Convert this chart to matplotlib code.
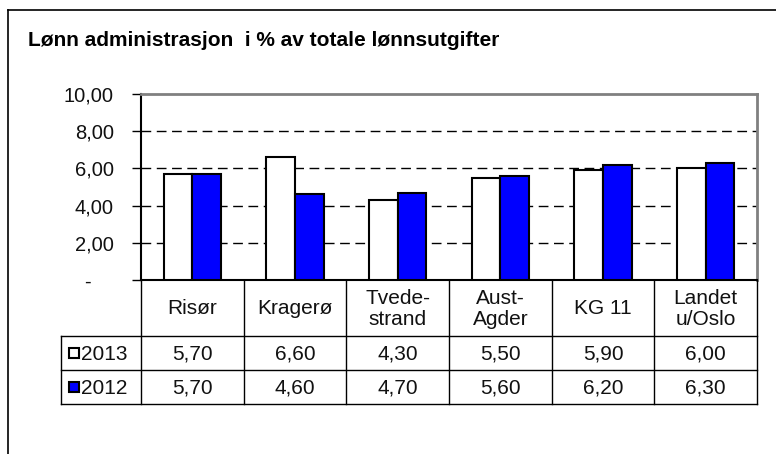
import matplotlib
matplotlib.use("Agg")
import matplotlib.pyplot as plt
from matplotlib.lines import Line2D
from matplotlib.patches import Rectangle
import numpy as np

plt.rcParams['font.family'] = ['Liberation Sans', 'DejaVu Sans']

title = "Lønn administrasjon  i % av totale lønnsutgifter"
categories = ["Risør", "Kragerø", "Tvede-\nstrand", "Aust-\nAgder", "KG 11", "Landet\nu/Oslo"]
series_names = ["2013", "2012"]
values_2013 = [5.70, 6.60, 4.30, 5.50, 5.90, 6.00]
values_2012 = [5.70, 4.60, 4.70, 5.60, 6.20, 6.30]
yticks = [0, 2, 4, 6, 8, 10]
ytick_labels = ["-    ", "2,00", "4,00", "6,00", "8,00", "10,00"]

W, H = 776, 454
fig = plt.figure(figsize=(W / 100, H / 100), dpi=100)

def fx(px):
    return px / W

def fy(py):
    return 1 - py / H

# outer border (only left and top visible)
fig.add_artist(Line2D([fx(8), fx(8)], [fy(10), fy(460)], color='black', lw=1.2))
fig.add_artist(Line2D([fx(8), fx(780)], [fy(10), fy(10)], color='black', lw=1.2))

fig.text(fx(28), fy(46), title, fontsize=15, fontweight='bold', va='baseline', ha='left')

L, R, T, B = 141, 757, 94, 280
ax = fig.add_axes([fx(L), fy(B), fx(R - L), (B - T) / H])
x = np.arange(len(categories))
bw = 0.28
ax.bar(x - bw / 2, values_2013, bw, color='white', edgecolor='black', lw=1.5, zorder=3)
ax.bar(x + bw / 2, values_2012, bw, color='#0000FF', edgecolor='black', lw=1.5, zorder=3)
ax.set_xlim(-0.5, len(categories) - 0.5)
ax.set_ylim(0, 10)
ax.set_yticks(yticks)
ax.set_yticklabels(ytick_labels, fontsize=14.5, color='#111111')
for t in yticks[1:-1]:
    ax.axhline(t, color='black', lw=1, dashes=(7, 4), zorder=1)
ax.set_xticks([])
for s in ['top', 'right']:
    ax.spines[s].set_color('#808080')
    ax.spines[s].set_linewidth(2)
ax.spines['left'].set_linewidth(1.5)
ax.spines['bottom'].set_linewidth(1.5)
ax.tick_params(axis='y', length=6.5, width=1, pad=13)

# table
col_edges = [L + i * (R - L) / len(categories) for i in range(len(categories) + 1)]
row_y = [B, 336, 370, 404]
lw = 1
for i, cx in enumerate(col_edges):
    fig.add_artist(Line2D([fx(cx), fx(cx)], [fy(B), fy(404)], color='black', lw=lw))
fig.add_artist(Line2D([fx(61), fx(61)], [fy(336), fy(404)], color='black', lw=lw))
for ry in row_y[1:]:
    fig.add_artist(Line2D([fx(61), fx(R)], [fy(ry), fy(ry)], color='black', lw=lw))

fs = 15
tc = '#111111'
for i, c in enumerate(categories):
    cx = (col_edges[i] + col_edges[i + 1]) / 2
    fig.text(fx(cx), fy((B + 336) / 2 + 1), c, ha='center', va='center', fontsize=fs,
             linespacing=1.1, color=tc)
    fig.text(fx(cx), fy((336 + 370) / 2 + 1), f"{values_2013[i]:.2f}".replace('.', ','),
             ha='center', va='center', fontsize=fs, color=tc)
    fig.text(fx(cx), fy((370 + 404) / 2 + 1), f"{values_2012[i]:.2f}".replace('.', ','),
             ha='center', va='center', fontsize=fs, color=tc)

colors = ['white', '#0000FF']
for j, name in enumerate(series_names):
    cy = (row_y[j + 1] + row_y[j + 2]) / 2
    fig.add_artist(Rectangle((fx(69), fy(cy + 5)), fx(10), 10 / H, facecolor=colors[j],
                             edgecolor='black', lw=1.5))
    fig.text(fx(81), fy(cy + 1), name, ha='left', va='center', fontsize=fs, color=tc)

fig.savefig("out.png", dpi=100)
